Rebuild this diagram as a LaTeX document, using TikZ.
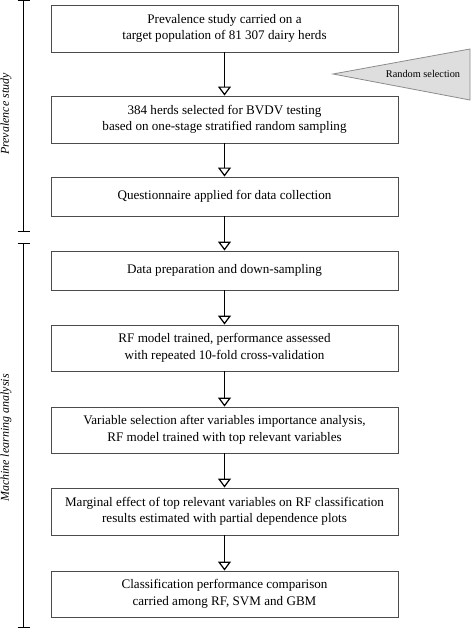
\documentclass[tikz,border=0pt]{standalone}
\usepackage{fontspec}
\setmainfont{Liberation Serif}
\usetikzlibrary{arrows.meta}
\begin{document}
\begin{tikzpicture}[x=1pt,y=-1pt,
  stepbox/.style={draw=black!70, line width=0.9pt, minimum width=347pt, align=center, inner sep=0pt, font=\fontsize{13.1}{16.5}\selectfont},
  flow/.style={line width=1.3pt, -{Triangle[open, width=13pt, length=9pt, line width=1.2pt]}},
  brk/.style={line width=1pt},
  side/.style={font=\fontsize{12}{14}\selectfont\itshape, rotate=90}
]
\useasboundingbox (0,0) rectangle (471,628);
\node[stepbox, minimum height=47pt] (b1) at (224.5,28.5) {Prevalence study carried on a\\target population of 81 307 dairy herds};
\node[stepbox, minimum height=47pt] (b2) at (224.5,119.5) {384 herds selected for BVDV testing\\based on one-stage stratified random sampling};
\node[stepbox, minimum height=39pt] (b3) at (224.5,196.5) {Questionnaire applied for data collection};
\node[stepbox, minimum height=39pt] (b4) at (224.5,270.5) {Data preparation and down-sampling};
\node[stepbox, minimum height=46pt] (b5) at (224.5,348) {RF model trained, performance assessed\\with repeated 10-fold cross-validation};
\node[stepbox, minimum height=46pt] (b6) at (224.5,430) {Variable selection after variables importance analysis,\\RF model trained with top relevant variables};
\node[stepbox, minimum height=47pt] (b7) at (224.5,511.5) {Marginal effect of top relevant variables on RF classification\\results estimated with partial dependence plots};
\node[stepbox, minimum height=46pt] (b8) at (224.5,594) {Classification performance comparison\\carried among RF, SVM and GBM};
\foreach \a/\b in {b1/b2,b2/b3,b3/b4,b4/b5,b5/b6,b6/b7,b7/b8}
  \draw[flow] (\a.south) -- (\b.north);
% random selection triangle
\coordinate (rtip) at (333,74);
\coordinate (rtop) at (470,49);
\coordinate (rbot) at (470,100);
\draw[draw=black!45, fill=black!13, line width=0.8pt] (rtip) -- (rtop) -- (rbot) -- cycle;
\node[font=\fontsize{10.3}{12}\selectfont] (rlab) at (423,74) {Random selection};
% brackets
\coordinate (p1) at (23.5,0.5);
\coordinate (p2) at (23.5,231);
\coordinate (m1) at (23.5,243);
\coordinate (m2) at (23.5,627);
\draw[brk] (p1) -- (p2);
\draw[brk] ([xshift=-6pt]p1) -- ([xshift=6pt]p1);
\draw[brk] ([xshift=-6pt]p2) -- ([xshift=6pt]p2);
\draw[brk] (m1) -- (m2);
\draw[brk] ([xshift=-6pt]m1) -- ([xshift=6pt]m1);
\draw[brk] ([xshift=-6pt]m2) -- ([xshift=6pt]m2);
\node[side] (lp) at (6,114) {Prevalence study};
\node[side] (lm) at (6,438) {Machine learning analysis};
\end{tikzpicture}
\end{document}
